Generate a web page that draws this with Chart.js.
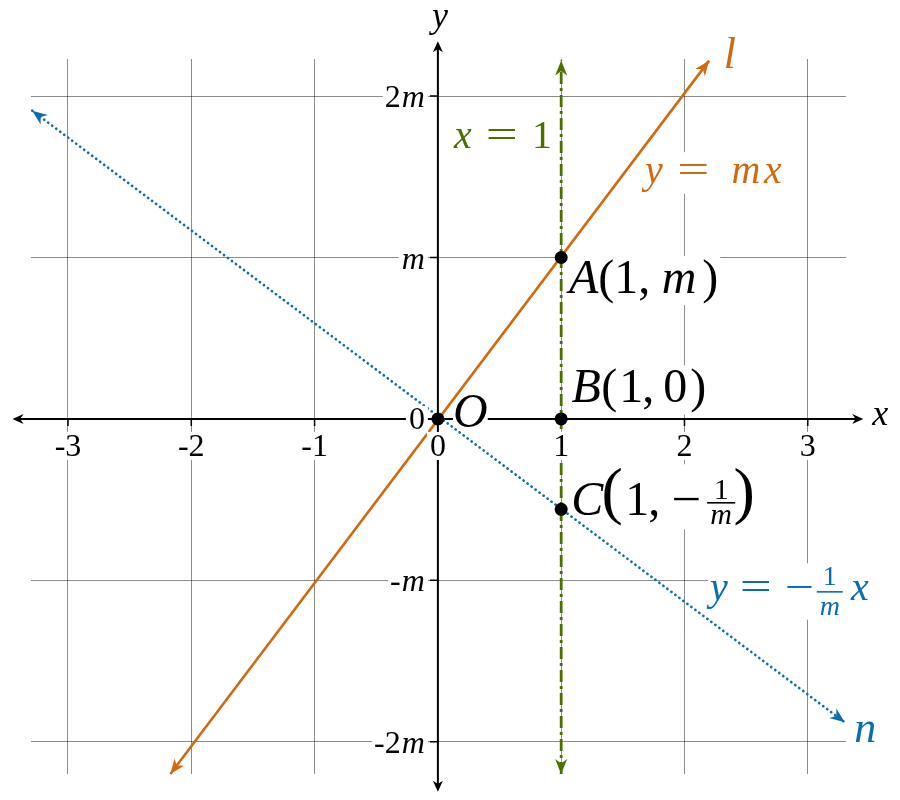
<!DOCTYPE html>
<html><head><meta charset="utf-8">
<script src="https://cdn.jsdelivr.net/npm/chart.js@4.4.1/dist/chart.umd.min.js"></script>
<style>html,body{margin:0;padding:0;background:#fff;}canvas{display:block;}</style>
</head><body>
<canvas id="c" width="900" height="800" style="width:900px;height:800px"></canvas>
<script>
// ---------- data (y values are in units of m) ----------
const xTicks = [-3, -2, -1, 0, 1, 2, 3];
const xTickLabels = ['-3', '-2', '-1', '0', '1', '2', '3'];
const yTicks = [-2, -1, 0, 1, 2];
const yTickLabels = ['-2m', '-m', '0', 'm', '2m'];
const xRange = [-3.30, 3.31];
const yRange = [-2.20, 2.23];
const xAxisExtent = [-3.45, 3.45];
const yAxisExtent = [-2.31, 2.34];
const lLineX = [-2.17, 2.20];
const lLineY = [-2.20, 2.22];
const nLineX = [-3.29, 3.30];
const nLineY = [1.91, -1.88];
const vLineX = [1, 1];
const vLineY = [-2.20, 2.22];
const pointNames = ['O', 'A', 'B', 'C'];
const pointX = [0, 1, 1, 1];
const pointY = [0, 1.0, 0, -0.56];

// ---------- styles ----------
const SERIF = '"Liberation Serif","DejaVu Serif",serif';
const ORANGE = '#D06A10', BLUE = '#0A6DAE', GREEN = '#4B7000', GRID = 'rgba(0,0,0,0.45)';

function fontStr(size, it) { return (it ? 'italic ' : '') + size + 'px ' + SERIF; }

function stealth(ctx, tx, ty, fx, fy, color, L, W) {
  const a = Math.atan2(ty - fy, tx - fx);
  ctx.save();
  ctx.translate(tx, ty); ctx.rotate(a);
  ctx.beginPath();
  ctx.moveTo(0, 0); ctx.lineTo(-L, -W / 2); ctx.lineTo(-L * 0.7, 0); ctx.lineTo(-L, W / 2);
  ctx.closePath();
  ctx.fillStyle = color; ctx.fill();
  ctx.restore();
}

function drawLabel(ctx, ax, ay, spec) {
  const boxes = [];
  spec.parts.forEach(p => {
    if (p.frac) {
      boxes.push([ax + p.cx - p.barW / 2, ay + p.numDy - 0.7 * p.size, ax + p.cx + p.barW / 2, ay + p.denDy + 0.1 * p.size]);
    } else {
      ctx.font = fontStr(p.size, p.it);
      const w = ctx.measureText(p.t).width * (p.sx || 1);
      const base = ay + (p.dy || 0);
      boxes.push([ax + p.cx - w / 2, base - 0.72 * p.size, ax + p.cx + w / 2, base + 0.22 * p.size]);
    }
  });
  if (spec.bg) {
    let l = Infinity, t = Infinity, r = -Infinity, b = -Infinity;
    boxes.forEach(bx => { l = Math.min(l, bx[0]); t = Math.min(t, bx[1]); r = Math.max(r, bx[2]); b = Math.max(b, bx[3]); });
    const pd = spec.pad == null ? 2 : spec.pad;
    ctx.fillStyle = '#fff';
    ctx.fillRect(l - pd, t - pd, r - l + 2 * pd, b - t + 2 * pd);
  }
  ctx.fillStyle = spec.color;
  ctx.textAlign = 'center'; ctx.textBaseline = 'alphabetic';
  spec.parts.forEach(p => {
    if (p.frac) {
      ctx.font = fontStr(p.size, false);
      ctx.fillText(p.frac[0], ax + p.cx, ay + p.numDy);
      ctx.font = fontStr(p.size, true);
      ctx.fillText(p.frac[1], ax + p.cx, ay + p.denDy);
      ctx.fillRect(ax + p.cx - p.barW / 2, ay + p.barDy - 0.8, p.barW, 1.6);
    } else {
      ctx.save();
      ctx.translate(ax + p.cx, ay + (p.dy || 0));
      ctx.scale(p.sx || 1, 1);
      ctx.font = fontStr(p.size, p.it);
      ctx.fillText(p.t, 0, 0);
      ctx.restore();
    }
  });
}

const EQ = 40, PT = 48, FR = 28, TK = 32;
// annotation labels anchored at data coordinates (left, baseline)
const annotations = [
  { at: [0.1135, 1.679], color: GREEN, bg: true, parts: [
    { t: 'x', it: true, cx: 11, size: EQ }, { t: '=', cx: 50, size: EQ, sx: 1.42 }, { t: '1', cx: 90, size: EQ }] },
  { at: [1.638, 1.462], color: ORANGE, bg: true, parts: [
    { t: 'y', it: true, cx: 14, size: EQ }, { t: '=', cx: 53.5, size: EQ, sx: 1.42 },
    { t: 'm', it: true, cx: 106, size: EQ }, { t: 'x', it: true, cx: 133, size: EQ }] },
  { at: [2.303, 2.175], color: ORANGE, bg: false, parts: [{ t: 'l', it: true, cx: 8, size: 44 }] },
  { at: [3.365, -2.001], color: BLUE, bg: false, parts: [{ t: 'n', it: true, cx: 12.5, size: 44 }] },
  { at: [2.181, -1.121], color: BLUE, bg: true, parts: [
    { t: 'y', it: true, cx: 12, size: EQ }, { t: '=', cx: 49, size: EQ, sx: 1.42 },
    { t: '\u2212', cx: 92.5, size: EQ, sx: 1.3 },
    { frac: ['1', 'm'], cx: 123, size: FR, barW: 26, numDy: -15, denDy: 15, barDy: -8 },
    { t: 'x', it: true, cx: 153, size: EQ }] }
];
// point labels: offset from point pixel (left, baseline)
const pointLabels = {
  O: { off: [17, 8], color: '#000', bg: true, pad: 0, parts: [{ t: 'O', it: true, cx: 15.5, size: PT }] },
  A: { off: [10, 35], color: '#000', bg: true, parts: [
    { t: 'A', it: true, cx: 12.5, size: PT }, { t: '(', cx: 35, size: PT }, { t: '1', cx: 55, size: PT },
    { t: ',', cx: 73, size: PT }, { t: 'm', it: true, cx: 108, size: PT }, { t: ')', cx: 139, size: PT }] },
  B: { off: [10, -17], color: '#000', bg: true, parts: [
    { t: 'B', it: true, cx: 15, size: PT }, { t: '(', cx: 38, size: PT }, { t: '1', cx: 60, size: PT },
    { t: ',', cx: 77, size: PT }, { t: '0', cx: 104, size: PT }, { t: ')', cx: 127, size: PT }] },
  C: { off: [11, 6], color: '#000', bg: true, parts: [
    { t: 'C', it: true, cx: 15, size: PT }, { t: '(', cx: 40, size: 64, dy: -3 }, { t: '1', cx: 65, size: PT },
    { t: ',', cx: 82, size: PT }, { t: '\u2212', cx: 114, size: PT, sx: 1.1 },
    { frac: ['1', 'm'], cx: 149, size: 30, barW: 28, numDy: -16, denDy: 9, barDy: -12.5 },
    { t: ')', cx: 172, size: 64, dy: -3 }] }
};

const mathPlugin = {
  id: 'math',
  beforeDatasetsDraw(chart) {
    const ctx = chart.ctx, xs = chart.scales.x, ys = chart.scales.y;
    const x0 = xs.getPixelForValue(0), y0 = ys.getPixelForValue(0);
    const xl = xs.getPixelForValue(xAxisExtent[0]), xr = xs.getPixelForValue(xAxisExtent[1]);
    const yb = ys.getPixelForValue(yAxisExtent[0]), yt = ys.getPixelForValue(yAxisExtent[1]);
    ctx.save();
    ctx.strokeStyle = '#000'; ctx.lineWidth = 2; ctx.lineCap = 'butt';
    ctx.beginPath();
    ctx.moveTo(xl + 6, y0); ctx.lineTo(xr - 6, y0);
    ctx.moveTo(x0, yb - 6); ctx.lineTo(x0, yt + 6);
    ctx.stroke();
    stealth(ctx, xl, y0, x0, y0, '#000', 11, 10);
    stealth(ctx, xr, y0, x0, y0, '#000', 11, 10);
    stealth(ctx, x0, yt, x0, y0, '#000', 11, 10);
    stealth(ctx, x0, yb, x0, y0, '#000', 11, 10);
    // tick marks
    ctx.lineWidth = 1.5;
    ctx.beginPath();
    xTicks.forEach(v => { if (v !== 0) { const px = xs.getPixelForValue(v); ctx.moveTo(px, y0); ctx.lineTo(px, y0 + 7); } });
    yTicks.forEach(v => { if (v !== 0) { const py = ys.getPixelForValue(v); ctx.moveTo(x0, py); ctx.lineTo(x0 - 8, py); } });
    ctx.stroke();
    // axis names
    ctx.fillStyle = '#000'; ctx.textAlign = 'center'; ctx.textBaseline = 'alphabetic';
    ctx.font = fontStr(36, true);
    ctx.fillText('x', xr + 17, y0 + 6);
    ctx.fillText('y', x0 + 2, yt - 14);
    // point labels & annotations (under the lines)
    pointNames.forEach((nm, i) => {
      const spec = pointLabels[nm];
      const px = xs.getPixelForValue(pointX[i]), py = ys.getPixelForValue(pointY[i]);
      drawLabel(ctx, px + spec.off[0], py + spec.off[1], spec);
    });
    annotations.forEach(a => drawLabel(ctx, xs.getPixelForValue(a.at[0]), ys.getPixelForValue(a.at[1]), a));
    ctx.restore();
  },
  afterDatasetsDraw(chart) {
    const ctx = chart.ctx, xs = chart.scales.x, ys = chart.scales.y;
    const x0 = xs.getPixelForValue(0), y0 = ys.getPixelForValue(0);
    ctx.save();
    // tick labels with white background
    ctx.textBaseline = 'alphabetic';
    xTicks.forEach((v, i) => {
      const px = xs.getPixelForValue(v);
      ctx.font = fontStr(TK, false);
      const w = ctx.measureText(xTickLabels[i]).width;
      ctx.fillStyle = '#fff';
      ctx.fillRect(px - w / 2 - 3, y0 + 13, w + 6, 28);
      ctx.fillStyle = '#000'; ctx.textAlign = 'center';
      ctx.fillText(xTickLabels[i], px, y0 + 37);
    });
    yTicks.forEach((v, i) => {
      const py = ys.getPixelForValue(v);
      const lab = yTickLabels[i];
      const right = x0 - 13;
      const base = v === 0 ? py + 10 : py + 11;
      let pre = lab, hasM = false;
      if (lab.endsWith('m')) { pre = lab.slice(0, -1); hasM = true; }
      ctx.font = fontStr(TK, true);
      const wm = hasM ? ctx.measureText('m').width : 0;
      ctx.font = fontStr(TK, false);
      const wp = ctx.measureText(pre).width;
      ctx.fillStyle = '#fff';
      ctx.fillRect(right - wm - wp - 3, py - 13, wm + wp + 6, 27);
      ctx.fillStyle = '#000'; ctx.textAlign = 'right';
      if (hasM) { ctx.font = fontStr(TK, true); ctx.fillText('m', right, base); }
      ctx.font = fontStr(TK, false);
      ctx.fillText(pre, right - wm - (hasM ? 1 : 0), base);
    });
    // arrowheads on the lines
    const arrowFor = (idx, color) => {
      const d = chart.getDatasetMeta(idx).data;
      stealth(ctx, d[0].x, d[0].y, d[1].x, d[1].y, color, 15, 12);
      stealth(ctx, d[1].x, d[1].y, d[0].x, d[0].y, color, 15, 12);
    };
    arrowFor(1, GREEN); arrowFor(2, ORANGE); arrowFor(3, BLUE);
    ctx.restore();
  }
};

const gridOpts = { color: GRID, lineWidth: 1, drawTicks: false };
new Chart(document.getElementById('c').getContext('2d'), {
  type: 'scatter',
  data: { datasets: [
    { label: 'points', data: pointX.map((x, i) => ({ x, y: pointY[i] })), showLine: false,
      pointRadius: 6.5, pointHoverRadius: 6.5, pointBackgroundColor: '#000', pointBorderWidth: 0, clip: false },
    { label: 'x = 1', data: vLineX.map((x, i) => ({ x, y: vLineY[i] })), showLine: true,
      borderColor: GREEN, borderWidth: 2.8, borderDash: [12, 4, 3, 4], pointRadius: 0, clip: false },
    { label: 'l', data: lLineX.map((x, i) => ({ x, y: lLineY[i] })), showLine: true,
      borderColor: ORANGE, borderWidth: 2.6, pointRadius: 0, clip: false },
    { label: 'n', data: nLineX.map((x, i) => ({ x, y: nLineY[i] })), showLine: true,
      borderColor: BLUE, borderWidth: 2.7, borderDash: [0.1, 4.9], borderCapStyle: 'round', pointRadius: 0, clip: false }
  ] },
  options: {
    responsive: false, animation: false, events: [],
    layout: { padding: { left: 31, right: 54, top: 59, bottom: 26 } },
    plugins: { legend: { display: false }, tooltip: { enabled: false } },
    scales: {
      x: { type: 'linear', min: xRange[0], max: xRange[1], grid: gridOpts, border: { display: false },
           ticks: { display: false }, afterBuildTicks: s => { s.ticks = xTicks.map(v => ({ value: v })); } },
      y: { type: 'linear', min: yRange[0], max: yRange[1], grid: gridOpts, border: { display: false },
           ticks: { display: false }, afterBuildTicks: s => { s.ticks = yTicks.map(v => ({ value: v })); } }
    }
  },
  plugins: [mathPlugin]
});
</script>
</body></html>
